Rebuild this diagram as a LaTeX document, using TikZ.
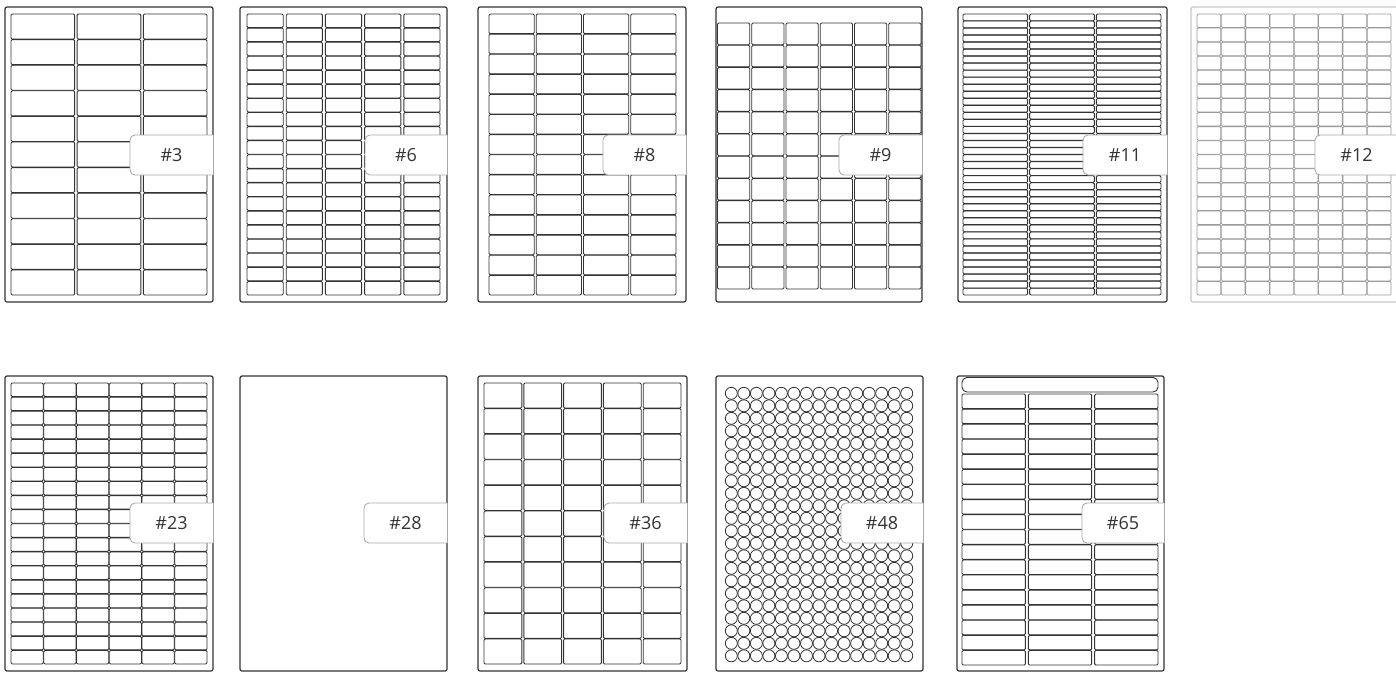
\documentclass[tikz,border=0pt]{standalone}
\usepackage{fontspec}
\setmainfont{Open Sans}
\definecolor{ink}{HTML}{333333}
\definecolor{tabline}{HTML}{AAAAAA}
\definecolor{lightsheet}{HTML}{C8C8C8}
\definecolor{lightlbl}{HTML}{9A9A9A}
\newcommand\labelgrid[9][]{%
  \pgfmathsetmacro\gw{(#4-#2+#8)/#6}%
  \pgfmathsetmacro\gh{(#5-#3+#9)/#7}%
  \pgfmathtruncatemacro\gnc{#6-1}%
  \pgfmathtruncatemacro\gnr{#7-1}%
  \foreach \ci in {0,...,\gnc}{\foreach \ri in {0,...,\gnr}{%
    \draw[lbl,#1] ({#2+\ci*\gw},{#3+\ri*\gh}) rectangle ++({\gw-#8},{\gh-#9});
  }}%
}
\newcommand\labeltab[5]{% name, x0, y0, x1, text
  \fill[white] (#2+6,#3) rectangle (#4,#3+40);
  \fill[white,rounded corners=5pt] (#2,#3) rectangle (#2+20,#3+40);
  \draw[tabedge,rounded corners=5pt] (#4,#3) -- (#2,#3) -- (#2,#3+40) -- (#4,#3+40);
  \draw[tabedge] (#4,#3) -- (#4,#3+40);
  \node[tabtext] (#1) at ({(#2+#4)/2},#3+20) {#5};
}
\begin{document}
\begin{tikzpicture}[x=1pt,y=-1pt,
  sheet/.style={draw=ink,line width=1.2pt,rounded corners=2pt},
  lbl/.style={draw=ink,line width=0.9pt,rounded corners=1.2pt},
  dot/.style={draw=ink,line width=0.8pt},
  tabedge/.style={draw=tabline,line width=0.9pt},
  tabtext/.style={text=ink,font=\fontsize{18}{20}\selectfont,inner sep=0pt}]
\useasboundingbox (0,0) rectangle (1396,673);
% ---------- top row ----------
% #3
\draw[sheet] (5,7) rectangle (213,302);
\labelgrid{11}{14}{207}{295}{3}{11}{2.5}{0.5}
\labeltab{t3}{130}{135}{213}{\#3}
% #6
\draw[sheet] (240,7) rectangle (447,302);
\labelgrid{247}{14}{440}{295}{5}{20}{3}{0.5}
\labeltab{t6}{365}{135}{447}{\#6}
% #8
\draw[sheet] (478,7) rectangle (686,302);
\labelgrid{489}{14}{676}{295}{4}{14}{2}{0.5}
\labeltab{t8}{603}{135}{686}{\#8}
% #9
\draw[sheet] (716,7) rectangle (922,302);
\labelgrid{717.5}{23}{921}{289}{6}{12}{2}{0.5}
\labeltab{t9}{839}{135}{922}{\#9}
% #11
\draw[sheet] (958,7) rectangle (1167,302);
\labelgrid{963}{14}{1161}{295}{3}{40}{2}{0.3}
\labeltab{t11}{1083}{135}{1167}{\#11}
% #12
\draw[sheet,draw=lightsheet] (1191,7) rectangle (1398,302);
\labelgrid[draw=lightlbl,line width=0.8pt]{1197}{14}{1391}{295}{8}{20}{0.5}{0.5}
\labeltab{t12}{1315}{135}{1398}{\#12}
% ---------- bottom row ----------
% #23
\draw[sheet] (5,376) rectangle (213,671);
\labelgrid{11}{383}{207}{664}{6}{20}{0.5}{0.5}
\labeltab{t23}{130}{503}{213}{\#23}
% #28
\draw[sheet] (240,376) rectangle (447,671);
\labeltab{t28}{364}{503}{447}{\#28}
% #36
\draw[sheet] (478,376) rectangle (687,671);
\labelgrid{484}{383}{681}{664}{5}{11}{2}{0.5}
\labeltab{t36}{604}{503}{687}{\#36}
% #48
\draw[sheet] (716,376) rectangle (923,671);
\foreach \ci in {0,...,14}{\foreach \ri in {0,...,21}{
  \draw[dot] ({731.3+\ci*12.53},{393.3+\ri*12.5}) circle (6);
}}
\labeltab{t48}{841}{503}{923}{\#48}
% #65
\draw[sheet] (957,376) rectangle (1164,671);
\draw[lbl,rounded corners=5pt] (962,377.5) rectangle (1158,392);
\labelgrid{962}{394}{1158}{665}{3}{18}{3}{0.5}
\labeltab{t65}{1082}{503}{1164}{\#65}
\end{tikzpicture}
\end{document}
